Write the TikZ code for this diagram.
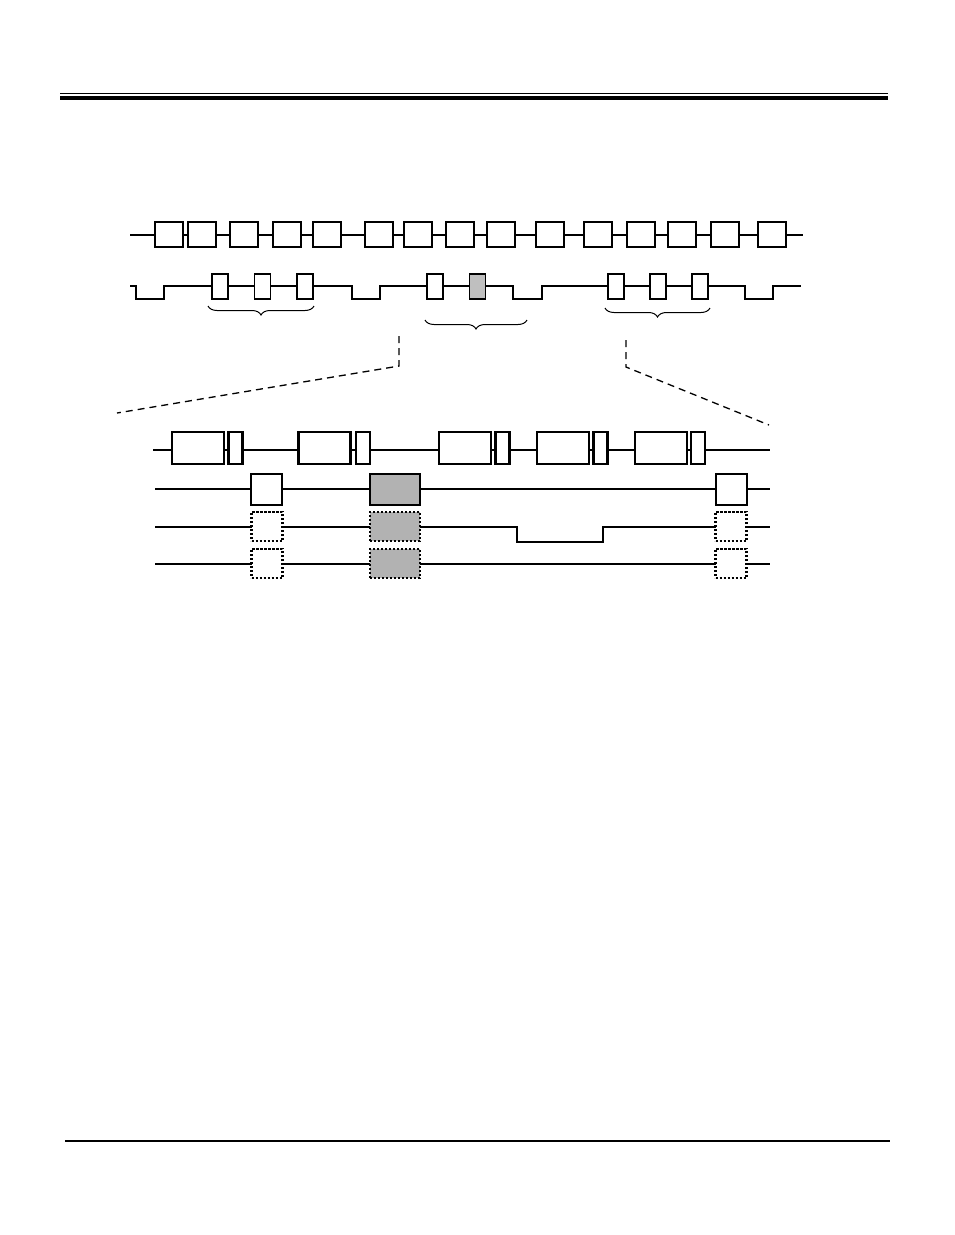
\documentclass[tikz,border=0pt]{standalone}
\usetikzlibrary{positioning, decorations.pathreplacing}

\begin{document}
\begin{tikzpicture}[
  x=1pt, y=-1pt,
  traccia/.style={draw=black, line width=1.3pt},
  cella/.style={draw=black, line width=1.8pt, fill=white, inner sep=0pt,
                minimum width=28pt, minimum height=25pt},
  impulso/.style={cella, line width=1.5pt, minimum width=16pt},
  trama/.style={draw=black, line width=2.6pt, fill=white, inner sep=0pt,
                minimum width=52pt, minimum height=32pt},
  coda/.style={trama, minimum width=14pt},
  slot/.style={draw=black, line width=2.6pt, fill=white, inner sep=0pt,
               minimum width=31pt, minimum height=31pt},
  riservato/.style={slot, line width=2.4pt, dash pattern=on 2.4pt off 1.6pt,
                    minimum height=29pt},
  occupato/.style={fill=black!30, minimum width=50pt},
  rinvio/.style={draw=black, line width=1.3pt, dash pattern=on 7pt off 5pt},
  graffa/.style={draw=black, line width=1pt, decorate,
                 decoration={brace, mirror, amplitude=9pt}},
  filetto/.style={draw=black, line width=#1}
]

% Pagina intera: un punto vale un pixel del riferimento.
\useasboundingbox (0,0) rectangle (954,1235);

% ---- filetti di testata e di piede ----------------------------------
\draw[filetto=1.2pt] (60,93.3) -- (888,93.3);
\draw[filetto=4.2pt] (60,97.9) -- (888,97.9);
\draw[filetto=2.5pt] (65,1141) -- (890,1141);

% ---- sequenza superiore: quindici celle ----------------------------
\draw[traccia] (130,235) -- (803,235);
\foreach \x [count=\n] in {169,202,244,287,327,379,418,460,501,550,598,641,682,725,772}
  \node[cella] (c\n) at (\x,234.5) {};

% ---- impulsi, con i vuoti tra un gruppo e l'altro -----------------
\draw[traccia] (130,286) -- (136,286) -- (136,299) -- (164,299) -- (164,286)
  -- (352,286) -- (352,299) -- (380,299) -- (380,286)
  -- (513,286) -- (513,299) -- (542,299) -- (542,286)
  -- (745,286) -- (745,299) -- (773,299) -- (773,286) -- (801,286);
\foreach \x/\f [count=\n] in {220/white, 262.5/white, 305/white, 435/white,
    477.5/black!25, 616/white, 658/white, 700/white}
  \node[impulso, fill=\f] (p\n) at (\x,286.5) {};

% ---- graffe sotto i gruppi -----------------------------------------
\draw[graffa] (208,306) -- (314,306);
\draw[graffa] (425,320) -- (527,320);
\draw[graffa] (605,308) -- (710,308);

% ---- rinvii tratteggiati verso il dettaglio ------------------------
\coordinate (rsx1) at (399,336);
\coordinate (rsx2) at (399,366);
\coordinate (rsx3) at (117,413);
\coordinate (rdx1) at (626,340);
\coordinate (rdx2) at (626,367);
\coordinate (rdx3) at (769,425);
\draw[rinvio] (rsx1) -- (rsx2) -- (rsx3);
\draw[rinvio] (rdx1) -- (rdx2) -- (rdx3);

% ---- dettaglio: trame con la loro coda ----------------------------
\draw[traccia] (153,450) -- (770,450);
\foreach \x/\y [count=\n] in {198/235.5, 324.5/363, 465/502.5, 563/600.5, 661/698} {
  \node[trama] (t\n) at (\x,448) {};
  \node[coda]  (k\n) at (\y,448) {};
}

% ---- dettaglio: slot occupati e riservati -------------------------
\draw[traccia] (155,489) -- (770,489);
\draw[traccia] (155,527) -- (517,527) -- (517,542) -- (603,542) -- (603,527) -- (770,527);
\draw[traccia] (155,564) -- (770,564);

\node[slot] (s1) at (266.5,489.5) {};
\node[slot, occupato] (s2) at (395,489.5) {};
\node[slot] (s3) at (731.5,489.5) {};

\foreach \r/\yy in {a/526.5, b/563.5} {
  \node[riservato] (\r1) at (267,\yy) {};
  \node[riservato, occupato] (\r2) at (395,\yy) {};
  \node[riservato] (\r3) at (731,\yy) {};
}

\end{tikzpicture}
\end{document}
